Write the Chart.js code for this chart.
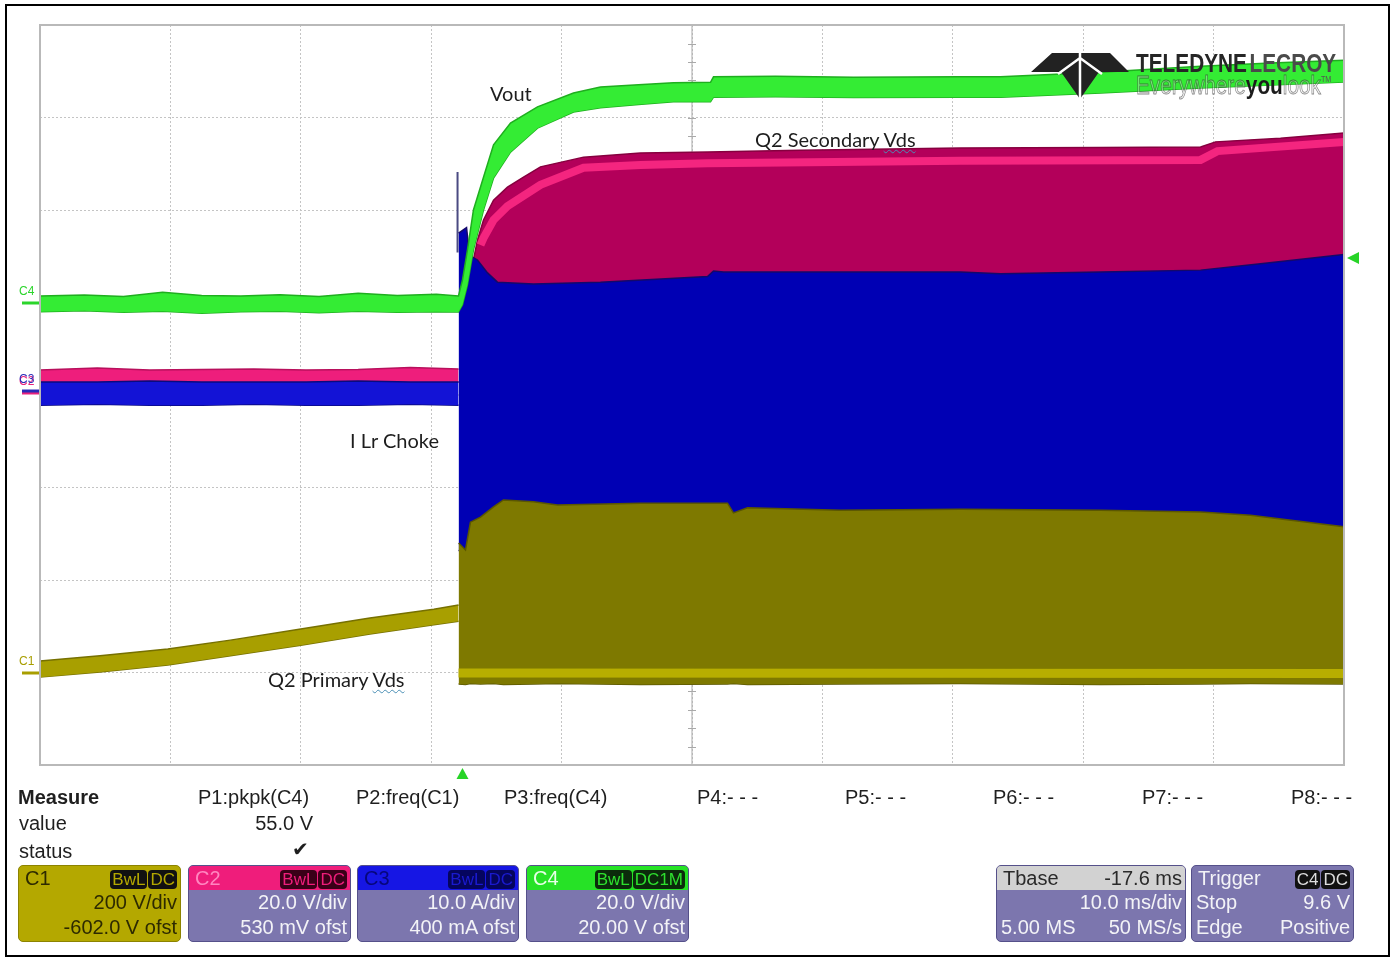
<!DOCTYPE html>
<html lang="en">
<head>
<meta charset="utf-8">
<title>Start-up capture C1-C4</title>
<script src="https://cdn.jsdelivr.net/npm/chart.js@4.4.1/dist/chart.umd.min.js"></script>
<style>
  body { margin: 0; background: #fff; }
  #screen { position: relative; width: 1393px; height: 958px; overflow: hidden; background: #fff;
            font-family: "Liberation Sans", Arial, sans-serif; color: #1c1c1c; }
  #scope { position: absolute; left: 0; top: 0; }
  .outline { position: absolute; left: 5px; top: 4px; width: 1381px; height: 949px; border: 2px solid #000; }
  .note { position: absolute; font-family: Lato, "Open Sans", sans-serif; font-size: 20px; line-height: 22px;
          color: #1d1d1d; white-space: nowrap; }
  .sq { text-decoration: underline wavy #4a8fb5; text-decoration-thickness: 1px; text-underline-offset: 2px; }
  .m { position: absolute; font-size: 20px; line-height: 22px; white-space: nowrap; color: #1f1f1f; }
  .box { position: absolute; top: 865px; height: 77px; box-sizing: border-box; border: 1px solid #55508a;
         border-radius: 5px; background: #7c76ae; color: #f3f3f7; font-size: 20px; overflow: hidden; }
  .box .hd { display: flex; justify-content: space-between; align-items: center; height: 24px; padding: 0 3px 0 6px; }
  .box .ln { display: flex; justify-content: space-between; height: 25px; line-height: 25px; padding: 0 3px 0 4px; }
  .box .ln span:only-child { margin-left: auto; }
  .tag { display: inline-block; background: #111; border-radius: 4px; padding: 0 2px; margin-left: 1px;
         font-size: 17px; line-height: 19px; }
</style>
</head>
<body>
<div id="screen">
  <canvas id="scope" width="1393" height="958"></canvas>

  <div class="note" style="left:490px;top:82px">Vout</div>
  <div class="note" style="left:755px;top:128px">Q2 Secondary <span class="sq">Vds</span></div>
  <div class="note" style="left:350px;top:429px">I Lr Choke</div>
  <div class="note" style="left:268px;top:668px">Q2 Primary <span class="sq">Vds</span></div>

  <div class="m" style="left:18px;top:786px"><b>Measure</b></div>
  <div class="m" style="left:19px;top:812px">value</div>
  <div class="m" style="left:19px;top:840px">status</div>
  <div class="m" style="left:198px;top:786px">P1:pkpk(C4)</div>
  <div class="m" style="left:356px;top:786px">P2:freq(C1)</div>
  <div class="m" style="left:504px;top:786px">P3:freq(C4)</div>
  <div class="m" style="left:697px;top:786px">P4:- - -</div>
  <div class="m" style="left:845px;top:786px">P5:- - -</div>
  <div class="m" style="left:993px;top:786px">P6:- - -</div>
  <div class="m" style="left:1142px;top:786px">P7:- - -</div>
  <div class="m" style="left:1291px;top:786px">P8:- - -</div>
  <div class="m" style="left:213px;width:100px;text-align:right;top:812px">55.0 V</div>
  <div class="m" style="left:292px;top:838px">&#10004;</div>

  <div class="box" style="left:18px;width:163px;background:#b4a800;color:#2d2a00;border-color:#8c8300">
    <div class="hd"><span>C1</span><span><span class="tag" style="color:#b4a800">BwL</span><span class="tag" style="color:#b4a800">DC</span></span></div>
    <div class="ln"><span>200 V/div</span></div>
    <div class="ln"><span>-602.0 V ofst</span></div>
  </div>
  <div class="box" style="left:188px;width:163px">
    <div class="hd" style="background:#ef1d7b;color:#ff86c0"><span>C2</span><span><span class="tag" style="background:#3a0018;color:#ef1d7b">BwL</span><span class="tag" style="background:#3a0018;color:#ef1d7b">DC</span></span></div>
    <div class="ln"><span>20.0 V/div</span></div>
    <div class="ln"><span>530 mV ofst</span></div>
  </div>
  <div class="box" style="left:357px;width:162px">
    <div class="hd" style="background:#1616e4;color:#06067a"><span>C3</span><span><span class="tag" style="background:#05055e;color:#1a1ad0">BwL</span><span class="tag" style="background:#05055e;color:#1a1ad0">DC</span></span></div>
    <div class="ln"><span>10.0 A/div</span></div>
    <div class="ln"><span>400 mA ofst</span></div>
  </div>
  <div class="box" style="left:526px;width:163px">
    <div class="hd" style="background:#26e226;color:#e6ffe6"><span>C4</span><span><span class="tag" style="background:#0b2b0b;color:#2ee02e">BwL</span><span class="tag" style="background:#0b2b0b;color:#2ee02e">DC1M</span></span></div>
    <div class="ln"><span>20.0 V/div</span></div>
    <div class="ln"><span>20.00 V ofst</span></div>
  </div>
  <div class="box" style="left:996px;width:190px">
    <div class="hd" style="background:#d2d2d2;color:#2a2a2a"><span>Tbase</span><span>-17.6 ms</span></div>
    <div class="ln"><span>10.0 ms/div</span></div>
    <div class="ln"><span>5.00 MS</span><span>50 MS/s</span></div>
  </div>
  <div class="box" style="left:1191px;width:163px">
    <div class="hd"><span>Trigger</span><span><span class="tag" style="color:#ddd">C4</span><span class="tag" style="color:#ddd">DC</span></span></div>
    <div class="ln"><span>Stop</span><span>9.6 V</span></div>
    <div class="ln"><span>Edge</span><span>Positive</span></div>
  </div>

  <div class="outline"></div>
</div>

<script>
// vertical setup per channel: units per division and offset
const CH1 = { scale: 200, ofst: -602.0 };   // V
const CH2 = { scale: 20, ofst: 0.53 };      // V
const CH3 = { scale: 10, ofst: 0.4 };       // A
const CH4 = { scale: 20, ofst: 20.0 };      // V
const trigLevel = 9.6;                      // V on C4, trigger at t = 0

// 10 ms/div, delay -17.6 ms -> grid lines in ms
const timeGrid = [-32.4, -22.4, -12.4, -2.4, 7.6, 17.6, 27.6, 37.6, 47.6, 57.6, 67.6];
const divGrid = [-4, -3, -2, -1, 0, 1, 2, 3, 4];

// C4  Vout (V) - min/max envelope
const c4Time = [-32.4, -29, -26, -23, -20, -17, -14, -11, -8, -5, -2, -0.31, 0, 0.38, 0.84, 1.61, 2.38, 3.68,
                5.75, 8.51, 10.58, 13.5, 16.18, 19.02, 19.25, 24, 30, 38.19, 41.26, 48.93, 56.6, 62, 67.6];
const c4Hi = [1.4, 1.6, 1.3, 2.2, 1.5, 1.4, 1.7, 1.3, 2.0, 1.5, 1.8, 1.4, 4.9, 11.4, 20.0, 27.1, 34.1, 38.8,
              42.3, 45.3, 46.6, 47.1, 47.5, 47.6, 48.8, 48.9, 48.7, 48.8, 48.8, 49.8, 51.1, 51.8, 52.4];
const c4Lo = [-2.0, -1.8, -2.1, -1.9, -2.3, -2.0, -1.9, -2.2, -1.9, -2.1, -2.0, -2.05, -0.5, 3.8, 11.4, 20.0, 26.9, 32.5,
              37.7, 41.2, 42.1, 42.8, 43.4, 43.4, 44.4, 44.5, 44.3, 44.4, 44.4, 45.3, 46.4, 47.0, 47.7];

// C2  Q2 secondary Vds (V)
const c2PreTime = [-32.4, -28, -24, -20, -16, -12, -8, -4, -0.3];
const c2PreHi = [4.9, 5.3, 4.9, 5.0, 5.1, 4.9, 5.0, 5.4, 5.1];
const c2PreLo = [2.3, 2.3, 2.4, 2.2, 2.3, 2.3, 2.4, 2.3, 2.3];
const c2Time = [-0.3, 0.61, 0.84, 1.15, 1.61, 2.38, 3.45, 4.68, 5.98, 9.28, 13.65, 18.79, 25.92, 38.19,
                48.93, 56.6, 57.75, 62.73, 67.6];
const c2Hi = [20.0, 25.4, 28.7, 33.0, 37.3, 41.6, 44.4, 46.6, 48.8, 50.9, 51.8, 52.0, 52.4, 52.9,
              53.0, 53.1, 54.2, 55.0, 56.1];
const c2Lo = [20, 20, 20, 20, 20, 20, 20, 20, 20, 20, 20, 20, 20, 20, 20, 20, 20, 20, 20];
const c2MeanTime = [1.38, 1.61, 2.38, 3.45, 5.98, 9.28, 13.65, 18.79, 38.19, 56.6, 57.9, 67.6];
const c2Mean = [31.9, 33.4, 37.3, 40.3, 44.9, 48.6, 49.2, 49.6, 50.1, 50.3, 52.2, 54.2];

// C3  I Lr choke (A)
const c3PreTime = [-32.4, -28, -24, -20, -16, -12, -8, -4, -0.3];
const c3PreHi = [1.0, 1.0, 1.1, 1.0, 1.0, 1.0, 1.1, 1.0, 1.0];
const c3PreLo = [-1.5, -1.4, -1.5, -1.5, -1.4, -1.5, -1.5, -1.4, -1.5];
const c3Time = [-0.3, 0.31, 0.54, 1.15, 1.92, 2.68, 5.44, 10.58, 18.79, 19.25, 20.02, 20.78, 28.99, 38.19,
                41.26, 48.93, 56.6, 61.2, 67.6];
const c3Hi = [17.1, 17.7, 14.7, 14.2, 12.8, 11.8, 11.6, 11.8, 12.4, 13.0, 12.9, 12.9, 12.9, 12.9,
              12.7, 12.9, 13.1, 13.8, 14.8];
const c3Lo = [-17.2, -17.6, -15.5, -14.5, -14.0, -13.5, -13.4, -13.5, -13.6, -13.5, -13.5, -14.2, -14.0, -14.0,
              -14.0, -14.0, -14.2, -14.7, -15.8];
const c3SpikeTime = [-0.38, -0.38];
const c3Spike = [23.7, 15.0];

// C1  Q2 primary Vds (V)
const c1PreTime = [-32.4, -27.8, -22.6, -17.8, -12.4, -7.1, -2.2, -0.3];
const c1PreHi = [27, 38, 53, 72, 96, 120, 139, 148];
const c1PreLo = [-8, 3, 18, 38, 61, 85, 105, 113];
const c1Time = [-0.3, 0.23, 0.61, 1.38, 2.38, 3.14, 5.44, 7.29, 13.65, 20.32, 20.78, 21.86, 28.99, 38.2,
                48.93, 56.6, 60.43, 67.6];
const c1Hi = [282, 267, 327, 338, 360, 375, 371, 364, 368, 368, 347, 358, 353, 355, 353, 349, 342, 317];
const c1Lo = [-23, -24, -22, -23, -22, -24, -23, -22, -24, -23, -22, -24, -23, -22, -24, -23, -22, -23];
const c1MeanTime = [-0.3, 67.6];
const c1Mean = [1, 0];

const toDiv = (v, ch) => (v + ch.ofst) / ch.scale;
const pts = (ts, vs, ch) => ts.map((t, i) => ({ x: t, y: toDiv(vs[i], ch) }));

const band = (name, ts, hi, lo, ch, fillColor, edge, order) => [
  { label: name, data: pts(ts, hi, ch), fill: '+1', backgroundColor: fillColor, borderColor: edge, borderWidth: 1.5, order },
  { label: name + ' min', data: pts(ts, lo, ch), fill: false, borderColor: edge, borderWidth: 1.5, order }
];
const trace = (name, ts, vs, ch, color, width, order) => (
  { label: name, data: pts(ts, vs, ch), fill: false, borderColor: color, borderWidth: width, order }
);

const zeroMarks = [
  { name: 'C4', ch: CH4, color: '#2bd52b' },
  { name: 'C2', ch: CH2, color: '#e8207c' },
  { name: 'C3', ch: CH3, color: '#2a2ab8' },
  { name: 'C1', ch: CH1, color: '#a89e00' }
];

const drawLogo = (ctx) => {
  ctx.save();
  ctx.fillStyle = '#222';
  ctx.beginPath();
  ctx.moveTo(1031, 72); ctx.lineTo(1052, 53); ctx.lineTo(1110, 53); ctx.lineTo(1129, 72);
  ctx.lineTo(1099, 72); ctx.lineTo(1080, 99); ctx.lineTo(1061, 72);
  ctx.closePath();
  ctx.fill();
  ctx.strokeStyle = '#fff';
  ctx.lineWidth = 2.5;
  ctx.beginPath();
  ctx.moveTo(1080, 53); ctx.lineTo(1080, 99);
  ctx.moveTo(1080, 58); ctx.lineTo(1058, 74);
  ctx.moveTo(1080, 58); ctx.lineTo(1102, 74);
  ctx.stroke();

  ctx.translate(1136, 0);
  ctx.scale(0.8, 1);
  ctx.textBaseline = 'alphabetic';
  ctx.font = 'bold 26px "Liberation Sans", Arial';
  ctx.fillStyle = '#262626';
  ctx.fillText('TELEDYNE', 0, 72);
  const w1 = ctx.measureText('TELEDYNE ').width;
  ctx.fillStyle = '#4a4a4a';
  ctx.fillText('LECROY', w1 - 4, 72);

  ctx.font = '26px "Liberation Sans", Arial';
  ctx.lineWidth = 0.8;
  ctx.strokeStyle = 'rgba(40,40,40,0.55)';
  ctx.fillStyle = 'rgba(235,235,235,0.35)';
  ctx.fillText('Everywhere', 0, 94);
  ctx.strokeText('Everywhere', 0, 94);
  let px = ctx.measureText('Everywhere').width;
  ctx.font = 'bold 26px "Liberation Sans", Arial';
  ctx.fillStyle = '#1c1c1c';
  ctx.fillText('you', px, 94);
  px += ctx.measureText('you').width;
  ctx.font = '26px "Liberation Sans", Arial';
  ctx.fillStyle = 'rgba(235,235,235,0.35)';
  ctx.fillText('look', px, 94);
  ctx.strokeText('look', px, 94);
  px += ctx.measureText('look').width;
  ctx.font = '9px "Liberation Sans", Arial';
  ctx.fillStyle = '#555';
  ctx.fillText('TM', px, 82);
  ctx.restore();
};

const scopeDecor = {
  id: 'scopeDecor',
  beforeDatasetsDraw(chart) {
    const { ctx, scales: { x, y } } = chart;
    const cx = x.getPixelForValue(timeGrid[5]);
    const cy = y.getPixelForValue(0);
    const minorT = (timeGrid[1] - timeGrid[0]) / 5;
    ctx.save();
    ctx.strokeStyle = '#a9a9a9';
    ctx.lineWidth = 1;
    ctx.beginPath();
    ctx.moveTo(cx, chart.chartArea.top); ctx.lineTo(cx, chart.chartArea.bottom);
    ctx.moveTo(chart.chartArea.left, cy); ctx.lineTo(chart.chartArea.right, cy);
    for (let k = -20; k <= 20; k++) {
      const py = Math.round(y.getPixelForValue(k / 5)) + 0.5;
      ctx.moveTo(cx - 4, py); ctx.lineTo(cx + 4, py);
    }
    for (let k = -25; k <= 25; k++) {
      const px = Math.round(x.getPixelForValue(timeGrid[5] + k * minorT)) + 0.5;
      ctx.moveTo(px, cy - 4); ctx.lineTo(px, cy + 4);
    }
    ctx.stroke();
    ctx.restore();
  },
  afterDatasetsDraw(chart) {
    const { ctx, chartArea: a } = chart;
    ctx.save();
    ctx.strokeStyle = '#b9b9b9';
    ctx.lineWidth = 2;
    ctx.strokeRect(a.left, a.top, a.right - a.left, a.bottom - a.top);
    ctx.restore();
    drawLogo(ctx);
  },
  afterDraw(chart) {
    const { ctx, chartArea: a, scales: { x, y } } = chart;
    ctx.save();
    ctx.font = '12px "Liberation Sans", Arial';
    ctx.textBaseline = 'bottom';
    zeroMarks.forEach(mk => {
      const py = Math.round(y.getPixelForValue(toDiv(0, mk.ch)));
      ctx.strokeStyle = mk.color;
      ctx.lineWidth = 3;
      ctx.beginPath();
      ctx.moveTo(22, py); ctx.lineTo(a.left - 1, py);
      ctx.stroke();
      ctx.fillStyle = mk.color;
      ctx.fillText(mk.name, 19, py - 5);
    });
    // trigger time and trigger level arrows
    ctx.fillStyle = '#28d428';
    const tx = x.getPixelForValue(0);
    ctx.beginPath();
    ctx.moveTo(tx, a.bottom + 3); ctx.lineTo(tx + 6, a.bottom + 14); ctx.lineTo(tx - 6, a.bottom + 14);
    ctx.closePath();
    ctx.fill();
    const ty = y.getPixelForValue(toDiv(trigLevel, CH4));
    ctx.beginPath();
    ctx.moveTo(a.right + 3, ty); ctx.lineTo(a.right + 15, ty - 6); ctx.lineTo(a.right + 15, ty + 6);
    ctx.closePath();
    ctx.fill();
    ctx.restore();
  }
};

new Chart(document.getElementById('scope'), {
  type: 'line',
  data: {
    datasets: [
      ...band('C2', c2PreTime, c2PreHi, c2PreLo, CH2, '#ee1e7c', '#b8105c', 12),
      ...band('C2', c2Time, c2Hi, c2Lo, CH2, '#b3005a', '#86003f', 12),
      trace('C2 mean', c2MeanTime, c2Mean, CH2, '#f4257f', 8, 11),
      trace('C3 glitch', c3SpikeTime, c3Spike, CH3, '#4b4b82', 2, 10.5),
      ...band('C3', c3PreTime, c3PreHi, c3PreLo, CH3, '#1313d6', '#0a0a80', 10),
      ...band('C3', c3Time, c3Hi, c3Lo, CH3, '#0000b4', '#14086a', 10),
      ...band('C1', c1PreTime, c1PreHi, c1PreLo, CH1, '#a89f00', '#767000', 9),
      ...band('C1', c1Time, c1Hi, c1Lo, CH1, '#7e7900', '#5b5700', 9),
      trace('C1 mean', c1MeanTime, c1Mean, CH1, '#b7ae00', 9, 8),
      ...band('C4', c4Time, c4Hi, c4Lo, CH4, '#34ec34', '#1fae1f', 5)
    ]
  },
  options: {
    responsive: false,
    animation: false,
    devicePixelRatio: 1,
    layout: { padding: { left: 40, top: 25, right: 49, bottom: 193 } },
    elements: { point: { radius: 0 }, line: { tension: 0 } },
    plugins: { legend: { display: false }, tooltip: { enabled: false } },
    scales: {
      x: {
        type: 'linear', min: timeGrid[0], max: timeGrid[timeGrid.length - 1],
        afterBuildTicks: s => { s.ticks = timeGrid.map(v => ({ value: v })); },
        ticks: { display: false },
        grid: { color: '#c4c4c4', lineWidth: 1, drawTicks: false },
        border: { display: false, dash: [2, 2] }
      },
      y: {
        type: 'linear', min: divGrid[0], max: divGrid[divGrid.length - 1],
        afterBuildTicks: s => { s.ticks = divGrid.map(v => ({ value: v })); },
        ticks: { display: false },
        grid: { color: '#c4c4c4', lineWidth: 1, drawTicks: false },
        border: { display: false, dash: [2, 2] }
      }
    }
  },
  plugins: [scopeDecor]
});
</script>
</body>
</html>
